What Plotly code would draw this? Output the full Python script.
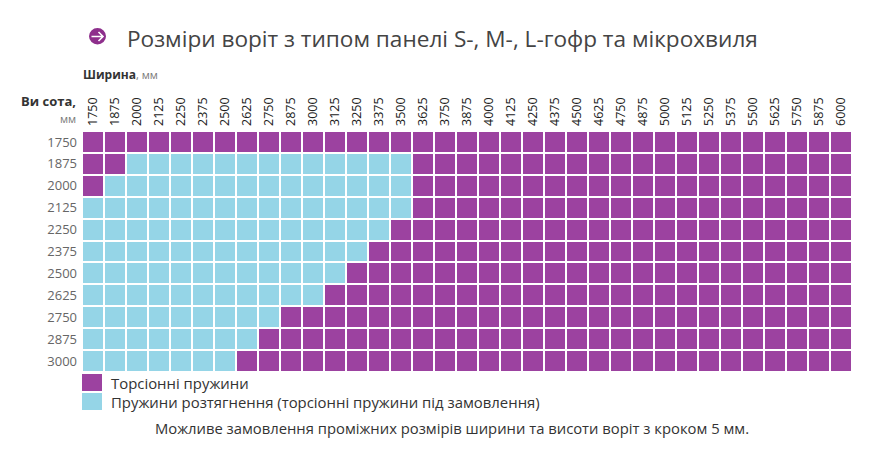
import plotly.graph_objects as go

# gate widths (columns) and heights (rows), mm
widths = ['1750', '1875', '2000', '2125', '2250', '2375', '2500', '2625', '2750',
          '2875', '3000', '3125', '3250', '3375', '3500', '3625', '3750', '3875',
          '4000', '4125', '4250', '4375', '4500', '4625', '4750', '4875', '5000',
          '5125', '5250', '5375', '5500', '5625', '5750', '5875', '6000']
heights = ['1750', '1875', '2000', '2125', '2250', '2375', '2500', '2625', '2750',
           '2875', '3000']

# range of widths with extension springs for each height (None = none)
blue_from = [None, 2000, 1875, 1750, 1750, 1750, 1750, 1750, 1750, 1750, 1750]
blue_to = [None, 3500, 3500, 3500, 3375, 3250, 3125, 3000, 2750, 2625, 2500]

legend_labels = ['Торсіонні пружини',
                 'Пружини розтягнення (торсіонні пружини під замовлення)']

PURPLE = '#9c42a0'
BLUE = '#95d5e7'
FONT = 'Open Sans'

z = []
for lo, hi in zip(blue_from, blue_to):
    row = []
    for w in widths:
        if lo is not None and lo <= int(w) <= hi:
            row.append(1)
        else:
            row.append(0)
    z.append(row)

fig = go.Figure()
fig.add_trace(go.Heatmap(
    x=widths, y=heights, z=z,
    zmin=0, zmax=1,
    colorscale=[[0, PURPLE], [0.5, PURPLE], [0.5, BLUE], [1, BLUE]],
    showscale=False, xgap=2, ygap=2, hoverinfo='x+y',
))

# pixel -> paper helpers (plot area 82..852 x 131..372 in the page)
def px(v):
    return (v - 82) / 770.0

def py(v):
    return (372 - v) / 241.0

def ann(text, x, y, size, color='#333333', xanchor='left', family=FONT):
    return dict(text=text, x=px(x), y=py(y), xref='paper', yref='paper',
                xanchor=xanchor, yanchor='middle', showarrow=False,
                font=dict(size=size, color=color, family=family))

arrow = 'M %f,%f L %f,%f M %f,%f L %f,%f L %f,%f' % (
    px(91.5), py(36.5), px(103), py(36.5),
    px(98.5), py(32), px(103), py(36.5), px(98.5), py(41))

shapes = [
    dict(type='circle', xref='paper', yref='paper', x0=px(89), x1=px(106),
         y0=py(44.5), y1=py(28), fillcolor='#8e2f8c', line=dict(width=0)),
    dict(type='path', xref='paper', yref='paper', path=arrow,
         line=dict(color='white', width=1.6)),
    dict(type='rect', xref='paper', yref='paper', x0=px(82), x1=px(102),
         y0=py(391), y1=py(374), fillcolor=PURPLE, line=dict(width=0)),
    dict(type='rect', xref='paper', yref='paper', x0=px(82), x1=px(102),
         y0=py(410), y1=py(393), fillcolor=BLUE, line=dict(width=0)),
]

annotations = [
    ann('Розміри воріт з типом панелі S-, M-, L-гофр та мікрохвиля', 125, 38, 22.6,
        color='#444444'),
    ann('<b>Ширина</b><span style="color:#777777;font-size:11px">, мм</span>',
        81, 75, 12),
    ann('<b>Ви сота,</b>', 78, 101, 13, xanchor='right'),
    ann('мм', 78, 118, 11, color='#777777', xanchor='right'),
    ann(legend_labels[0], 109, 383, 14.9),
    ann(legend_labels[1], 109, 402, 14.9),
    ann('Можливе замовлення проміжних розмірів ширини та висоти воріт з кроком 5 мм.',
        452, 428, 14.8, xanchor='center'),
]

# the page adds an 8px body margin, so the figure is shifted by that much
fig.update_layout(
    width=870, height=436,
    margin=dict(l=74, r=26, t=123, b=72),
    paper_bgcolor='white', plot_bgcolor='white',
    shapes=shapes, annotations=annotations,
    showlegend=False,
    xaxis=dict(type='category', side='top', tickangle=-90, showgrid=False,
               zeroline=False, ticks='', ticklabelstandoff=4,
               tickfont=dict(size=12.5, color='#222222', family=FONT)),
    yaxis=dict(type='category', autorange='reversed', showgrid=False,
               zeroline=False, ticks='', ticklabelstandoff=4,
               tickfont=dict(size=13, color='#666666', family=FONT)),
)

fig.write_html("out.html")
